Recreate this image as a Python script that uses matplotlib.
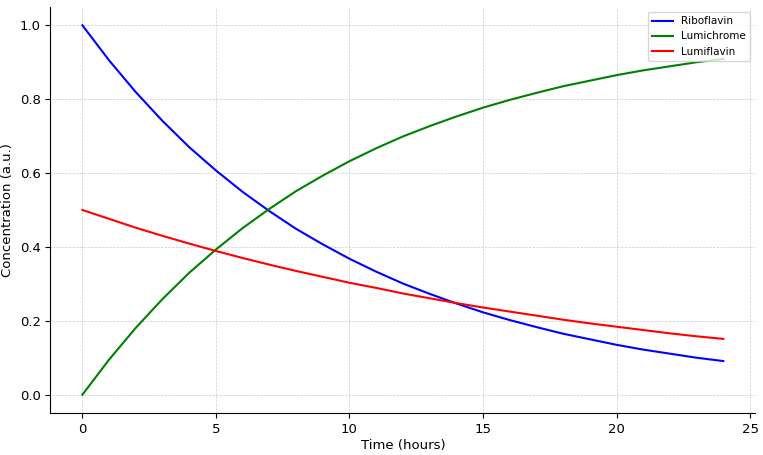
import matplotlib
matplotlib.use("Agg")
import matplotlib.pyplot as plt

# hourly readings
hours = list(range(25))
riboflavin = [1.0, .905, .819, .741, .670, .607, .549, .497, .449, .407, .368, .333, .301,
              .273, .247, .223, .202, .183, .165, .150, .135, .122, .111, .100, .091]
lumichrome = [0.0, .095, .181, .259, .330, .393, .451, .503, .551, .593, .632, .667, .699,
              .727, .753, .777, .798, .817, .835, .850, .865, .878, .889, .900, .909]
lumiflavin = [.5, .476, .452, .430, .409, .389, .370, .352, .335, .319, .303, .289, .274,
              .261, .248, .236, .225, .214, .203, .193, .184, .175, .166, .158, .151]

fig, ax = plt.subplots(figsize=(7.63, 4.55), dpi=100)
ax.plot(hours, riboflavin, color='blue', lw=1.5, label='Riboflavin')
ax.plot(hours, lumichrome, color='green', lw=1.5, label='Lumichrome')
ax.plot(hours, lumiflavin, color='red', lw=1.5, label='Lumiflavin')

ax.set_xlabel('Time (hours)', fontsize=9.5, labelpad=2)
ax.set_ylabel('Concentration (a.u.)', fontsize=9.5, labelpad=4)
ax.tick_params(labelsize=9.5, direction='out')
ax.grid(True, linestyle='--', linewidth=0.5, color='#cccccc')
for s in ('top', 'right'):
    ax.spines[s].set_visible(False)
ax.legend(loc='upper right', fontsize=7.5)

fig.subplots_adjust(left=0.066, right=0.99, top=0.985, bottom=0.092)
fig.savefig('out.png')
